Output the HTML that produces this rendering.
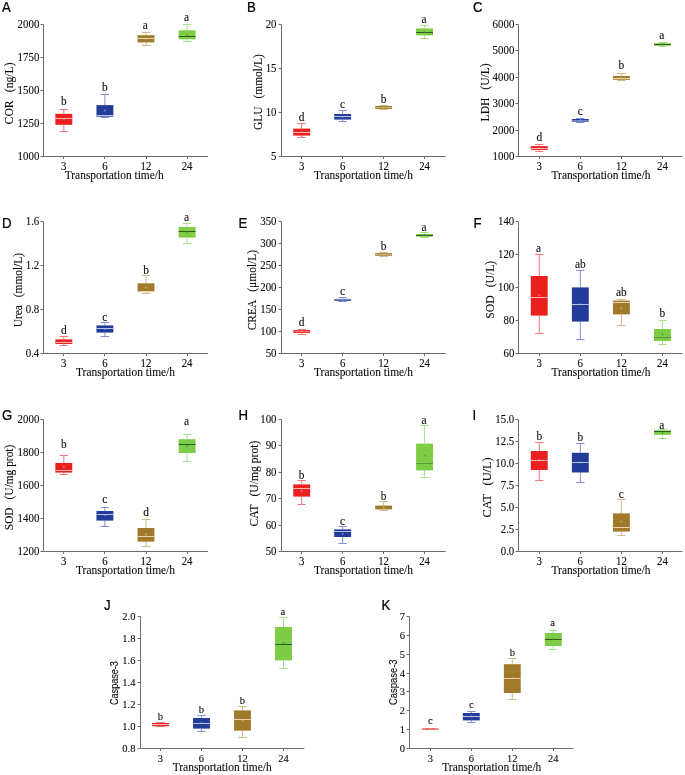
<!DOCTYPE html>
<html><head><meta charset="utf-8"><style>
html,body{margin:0;padding:0;background:#fff;}
svg{display:block;will-change:transform;}
</style></head><body>
<svg width="685" height="775" viewBox="0 0 685 775">
<rect width="685" height="775" fill="#fff"/>
<g transform="translate(2,12.3) scale(0.93,1)"><text x="0" y="0" font-family="Liberation Sans" font-size="14.2" fill="#000" stroke="#000" stroke-width="0.25">A</text></g>
<path d="M43.50 24.50 V156.50 H208.00" fill="none" stroke="#6a6a6a" stroke-width="1"/>
<path d="M40.50 156.50 H43.50" stroke="#6a6a6a" stroke-width="1"/>
<g transform="translate(39.30,160.10) scale(0.92,1)"><text x="0" y="0" font-family="Liberation Serif" font-size="11.8" text-anchor="end" fill="#0a0a0a" stroke="#0a0a0a" stroke-width="0.1">1000</text></g>
<path d="M40.50 123.50 H43.50" stroke="#6a6a6a" stroke-width="1"/>
<g transform="translate(39.30,127.10) scale(0.92,1)"><text x="0" y="0" font-family="Liberation Serif" font-size="11.8" text-anchor="end" fill="#0a0a0a" stroke="#0a0a0a" stroke-width="0.1">1250</text></g>
<path d="M40.50 90.50 H43.50" stroke="#6a6a6a" stroke-width="1"/>
<g transform="translate(39.30,94.10) scale(0.92,1)"><text x="0" y="0" font-family="Liberation Serif" font-size="11.8" text-anchor="end" fill="#0a0a0a" stroke="#0a0a0a" stroke-width="0.1">1500</text></g>
<path d="M40.50 57.50 H43.50" stroke="#6a6a6a" stroke-width="1"/>
<g transform="translate(39.30,61.10) scale(0.92,1)"><text x="0" y="0" font-family="Liberation Serif" font-size="11.8" text-anchor="end" fill="#0a0a0a" stroke="#0a0a0a" stroke-width="0.1">1750</text></g>
<path d="M40.50 24.50 H43.50" stroke="#6a6a6a" stroke-width="1"/>
<g transform="translate(39.30,28.10) scale(0.92,1)"><text x="0" y="0" font-family="Liberation Serif" font-size="11.8" text-anchor="end" fill="#0a0a0a" stroke="#0a0a0a" stroke-width="0.1">2000</text></g>
<path d="M63.50 157.00 V159.00" stroke="#6a6a6a" stroke-width="1"/>
<g transform="translate(63.80,169.80) scale(0.92,1)"><text x="0" y="0" font-family="Liberation Serif" font-size="11.8" text-anchor="middle" fill="#0a0a0a" stroke="#0a0a0a" stroke-width="0.1">3</text></g>
<path d="M104.50 157.00 V159.00" stroke="#6a6a6a" stroke-width="1"/>
<g transform="translate(104.90,169.80) scale(0.92,1)"><text x="0" y="0" font-family="Liberation Serif" font-size="11.8" text-anchor="middle" fill="#0a0a0a" stroke="#0a0a0a" stroke-width="0.1">6</text></g>
<path d="M146.50 157.00 V159.00" stroke="#6a6a6a" stroke-width="1"/>
<g transform="translate(146.00,169.80) scale(0.92,1)"><text x="0" y="0" font-family="Liberation Serif" font-size="11.8" text-anchor="middle" fill="#0a0a0a" stroke="#0a0a0a" stroke-width="0.1">12</text></g>
<path d="M187.50 157.00 V159.00" stroke="#6a6a6a" stroke-width="1"/>
<g transform="translate(187.10,169.80) scale(0.92,1)"><text x="0" y="0" font-family="Liberation Serif" font-size="11.8" text-anchor="middle" fill="#0a0a0a" stroke="#0a0a0a" stroke-width="0.1">24</text></g>
<g transform="translate(114.20,178.60) scale(0.995,1)"><text x="0" y="0" font-family="Liberation Serif" font-size="11.5" text-anchor="middle" fill="#0a0a0a" stroke="#0a0a0a" stroke-width="0.1">Transportation time/h</text></g>
<text transform="translate(13.30,124.40) rotate(-90)" x="0" y="0" font-family="Liberation Serif" font-size="12.0" textLength="62.00" lengthAdjust="spacingAndGlyphs" fill="#0a0a0a" stroke="#0a0a0a" stroke-width="0.1">COR  (ng/L)</text>
<path d="M63.80 109.50 V113.80 M63.80 124.80 V131.50 M59.65 109.50 H67.95 M59.65 131.50 H67.95" stroke="#f07878" stroke-width="1" fill="none"/>
<rect x="55.35" y="113.80" width="16.9" height="11.00" fill="#ec1f1f"/>
<path d="M55.35 118.50 H72.25" stroke="#f3b8b8" stroke-width="1" stroke-opacity="1"/>
<circle cx="63.80" cy="119.00" r="1.1" fill="#f5a0a0" fill-opacity="0.6"/>
<g transform="translate(63.80,105.40) scale(0.93,1)"><text x="0" y="0" font-family="Liberation Serif" font-size="12.3" text-anchor="middle" fill="#0a0a0a" stroke="#0a0a0a" stroke-width="0.1">b</text></g>
<path d="M104.90 94.50 V105.10 M104.90 116.70 V117.50 M100.75 94.50 H109.05 M100.75 117.50 H109.05" stroke="#8090d4" stroke-width="1" fill="none"/>
<rect x="96.45" y="105.10" width="16.9" height="11.60" fill="#233c97"/>
<path d="M96.45 115.50 H113.35" stroke="#b8c2e6" stroke-width="1" stroke-opacity="1"/>
<circle cx="104.90" cy="110.50" r="1.1" fill="#a0aee0" fill-opacity="0.6"/>
<g transform="translate(104.90,90.80) scale(0.93,1)"><text x="0" y="0" font-family="Liberation Serif" font-size="12.3" text-anchor="middle" fill="#0a0a0a" stroke="#0a0a0a" stroke-width="0.1">b</text></g>
<path d="M146.00 32.50 V35.20 M146.00 42.40 V45.50 M141.85 32.50 H150.15 M141.85 45.50 H150.15" stroke="#d2b888" stroke-width="1" fill="none"/>
<rect x="137.55" y="35.20" width="16.9" height="7.20" fill="#a07a2a"/>
<path d="M137.55 38.50 H154.45" stroke="#e6d6b0" stroke-width="1" stroke-opacity="1"/>
<circle cx="146.00" cy="38.50" r="1.1" fill="#d8c490" fill-opacity="0.6"/>
<g transform="translate(145.40,28.60) scale(0.93,1)"><text x="0" y="0" font-family="Liberation Serif" font-size="12.3" text-anchor="middle" fill="#0a0a0a" stroke="#0a0a0a" stroke-width="0.1">a</text></g>
<path d="M187.10 24.50 V30.30 M187.10 39.30 V41.50 M182.95 24.50 H191.25 M182.95 41.50 H191.25" stroke="#a6e088" stroke-width="1" fill="none"/>
<rect x="178.65" y="30.30" width="16.9" height="9.00" fill="#7ccd45"/>
<path d="M178.65 36.50 H195.55" stroke="#2f5a20" stroke-width="1" stroke-opacity="1"/>
<circle cx="187.10" cy="35.00" r="1.1" fill="#4a8a30" fill-opacity="0.6"/>
<g transform="translate(186.50,20.50) scale(0.93,1)"><text x="0" y="0" font-family="Liberation Serif" font-size="12.3" text-anchor="middle" fill="#0a0a0a" stroke="#0a0a0a" stroke-width="0.1">a</text></g>
<g transform="translate(247,12.3) scale(0.93,1)"><text x="0" y="0" font-family="Liberation Sans" font-size="14.2" fill="#000" stroke="#000" stroke-width="0.25">B</text></g>
<path d="M281.50 24.50 V156.50 H445.60" fill="none" stroke="#6a6a6a" stroke-width="1"/>
<path d="M278.50 156.50 H281.50" stroke="#6a6a6a" stroke-width="1"/>
<g transform="translate(276.50,160.10) scale(0.92,1)"><text x="0" y="0" font-family="Liberation Serif" font-size="11.8" text-anchor="end" fill="#0a0a0a" stroke="#0a0a0a" stroke-width="0.1">5</text></g>
<path d="M278.50 112.50 H281.50" stroke="#6a6a6a" stroke-width="1"/>
<g transform="translate(276.50,116.10) scale(0.92,1)"><text x="0" y="0" font-family="Liberation Serif" font-size="11.8" text-anchor="end" fill="#0a0a0a" stroke="#0a0a0a" stroke-width="0.1">10</text></g>
<path d="M278.50 68.50 H281.50" stroke="#6a6a6a" stroke-width="1"/>
<g transform="translate(276.50,72.10) scale(0.92,1)"><text x="0" y="0" font-family="Liberation Serif" font-size="11.8" text-anchor="end" fill="#0a0a0a" stroke="#0a0a0a" stroke-width="0.1">15</text></g>
<path d="M278.50 24.50 H281.50" stroke="#6a6a6a" stroke-width="1"/>
<g transform="translate(276.50,28.10) scale(0.92,1)"><text x="0" y="0" font-family="Liberation Serif" font-size="11.8" text-anchor="end" fill="#0a0a0a" stroke="#0a0a0a" stroke-width="0.1">20</text></g>
<path d="M301.50 157.00 V159.00" stroke="#6a6a6a" stroke-width="1"/>
<g transform="translate(301.70,169.80) scale(0.92,1)"><text x="0" y="0" font-family="Liberation Serif" font-size="11.8" text-anchor="middle" fill="#0a0a0a" stroke="#0a0a0a" stroke-width="0.1">3</text></g>
<path d="M342.50 157.00 V159.00" stroke="#6a6a6a" stroke-width="1"/>
<g transform="translate(342.65,169.80) scale(0.92,1)"><text x="0" y="0" font-family="Liberation Serif" font-size="11.8" text-anchor="middle" fill="#0a0a0a" stroke="#0a0a0a" stroke-width="0.1">6</text></g>
<path d="M383.50 157.00 V159.00" stroke="#6a6a6a" stroke-width="1"/>
<g transform="translate(383.60,169.80) scale(0.92,1)"><text x="0" y="0" font-family="Liberation Serif" font-size="11.8" text-anchor="middle" fill="#0a0a0a" stroke="#0a0a0a" stroke-width="0.1">12</text></g>
<path d="M424.50 157.00 V159.00" stroke="#6a6a6a" stroke-width="1"/>
<g transform="translate(424.55,169.80) scale(0.92,1)"><text x="0" y="0" font-family="Liberation Serif" font-size="11.8" text-anchor="middle" fill="#0a0a0a" stroke="#0a0a0a" stroke-width="0.1">24</text></g>
<g transform="translate(363.50,178.60) scale(0.995,1)"><text x="0" y="0" font-family="Liberation Serif" font-size="11.5" text-anchor="middle" fill="#0a0a0a" stroke="#0a0a0a" stroke-width="0.1">Transportation time/h</text></g>
<text transform="translate(262.30,129.90) rotate(-90)" x="0" y="0" font-family="Liberation Serif" font-size="12.0" textLength="75.70" lengthAdjust="spacingAndGlyphs" fill="#0a0a0a" stroke="#0a0a0a" stroke-width="0.1">GLU  (mmol/L)</text>
<path d="M301.70 123.50 V128.60 M301.70 135.60 V137.50 M297.55 123.50 H305.85 M297.55 137.50 H305.85" stroke="#f07878" stroke-width="1" fill="none"/>
<rect x="293.25" y="128.60" width="16.9" height="7.00" fill="#ec1f1f"/>
<path d="M293.25 132.50 H310.15" stroke="#f3b8b8" stroke-width="1" stroke-opacity="1"/>
<circle cx="301.70" cy="132.00" r="1.1" fill="#f5a0a0" fill-opacity="0.6"/>
<g transform="translate(301.70,121.40) scale(0.93,1)"><text x="0" y="0" font-family="Liberation Serif" font-size="12.3" text-anchor="middle" fill="#0a0a0a" stroke="#0a0a0a" stroke-width="0.1">d</text></g>
<path d="M342.65 110.50 V114.00 M342.65 119.60 V121.50 M338.50 110.50 H346.80 M338.50 121.50 H346.80" stroke="#8090d4" stroke-width="1" fill="none"/>
<rect x="334.20" y="114.00" width="16.9" height="5.60" fill="#233c97"/>
<path d="M334.20 116.50 H351.10" stroke="#b8c2e6" stroke-width="1" stroke-opacity="1"/>
<circle cx="342.65" cy="116.80" r="1.1" fill="#a0aee0" fill-opacity="0.6"/>
<g transform="translate(342.65,108.40) scale(0.93,1)"><text x="0" y="0" font-family="Liberation Serif" font-size="12.3" text-anchor="middle" fill="#0a0a0a" stroke="#0a0a0a" stroke-width="0.1">c</text></g>
<path d="M383.60 105.50 V106.00 M383.60 108.90 V109.50 M379.45 105.50 H387.75 M379.45 109.50 H387.75" stroke="#d2b888" stroke-width="1" fill="none"/>
<rect x="375.15" y="106.00" width="16.9" height="2.90" fill="#a07a2a"/>
<path d="M375.15 107.50 H392.05" stroke="#e6d6b0" stroke-width="1" stroke-opacity="0.55"/>
<circle cx="383.60" cy="107.60" r="1.1" fill="#d8c490" fill-opacity="0.6"/>
<g transform="translate(383.60,103.40) scale(0.93,1)"><text x="0" y="0" font-family="Liberation Serif" font-size="12.3" text-anchor="middle" fill="#0a0a0a" stroke="#0a0a0a" stroke-width="0.1">b</text></g>
<path d="M424.55 25.50 V28.40 M424.55 35.40 V38.50 M420.40 25.50 H428.70 M420.40 38.50 H428.70" stroke="#a6e088" stroke-width="1" fill="none"/>
<rect x="416.10" y="28.40" width="16.9" height="7.00" fill="#7ccd45"/>
<path d="M416.10 32.50 H433.00" stroke="#2f5a20" stroke-width="1" stroke-opacity="1"/>
<circle cx="424.55" cy="32.00" r="1.1" fill="#4a8a30" fill-opacity="0.6"/>
<g transform="translate(423.95,23.40) scale(0.93,1)"><text x="0" y="0" font-family="Liberation Serif" font-size="12.3" text-anchor="middle" fill="#0a0a0a" stroke="#0a0a0a" stroke-width="0.1">a</text></g>
<g transform="translate(473,12.3) scale(0.93,1)"><text x="0" y="0" font-family="Liberation Sans" font-size="14.2" fill="#000" stroke="#000" stroke-width="0.25">C</text></g>
<path d="M518.50 24.50 V156.50 H682.40" fill="none" stroke="#6a6a6a" stroke-width="1"/>
<path d="M515.50 156.50 H518.50" stroke="#6a6a6a" stroke-width="1"/>
<g transform="translate(514.30,160.10) scale(0.92,1)"><text x="0" y="0" font-family="Liberation Serif" font-size="11.8" text-anchor="end" fill="#0a0a0a" stroke="#0a0a0a" stroke-width="0.1">1000</text></g>
<path d="M515.50 130.50 H518.50" stroke="#6a6a6a" stroke-width="1"/>
<g transform="translate(514.30,134.10) scale(0.92,1)"><text x="0" y="0" font-family="Liberation Serif" font-size="11.8" text-anchor="end" fill="#0a0a0a" stroke="#0a0a0a" stroke-width="0.1">2000</text></g>
<path d="M515.50 103.50 H518.50" stroke="#6a6a6a" stroke-width="1"/>
<g transform="translate(514.30,107.10) scale(0.92,1)"><text x="0" y="0" font-family="Liberation Serif" font-size="11.8" text-anchor="end" fill="#0a0a0a" stroke="#0a0a0a" stroke-width="0.1">3000</text></g>
<path d="M515.50 77.50 H518.50" stroke="#6a6a6a" stroke-width="1"/>
<g transform="translate(514.30,81.10) scale(0.92,1)"><text x="0" y="0" font-family="Liberation Serif" font-size="11.8" text-anchor="end" fill="#0a0a0a" stroke="#0a0a0a" stroke-width="0.1">4000</text></g>
<path d="M515.50 50.50 H518.50" stroke="#6a6a6a" stroke-width="1"/>
<g transform="translate(514.30,54.10) scale(0.92,1)"><text x="0" y="0" font-family="Liberation Serif" font-size="11.8" text-anchor="end" fill="#0a0a0a" stroke="#0a0a0a" stroke-width="0.1">5000</text></g>
<path d="M515.50 24.50 H518.50" stroke="#6a6a6a" stroke-width="1"/>
<g transform="translate(514.30,28.10) scale(0.92,1)"><text x="0" y="0" font-family="Liberation Serif" font-size="11.8" text-anchor="end" fill="#0a0a0a" stroke="#0a0a0a" stroke-width="0.1">6000</text></g>
<path d="M539.50 157.00 V159.00" stroke="#6a6a6a" stroke-width="1"/>
<g transform="translate(539.25,169.80) scale(0.92,1)"><text x="0" y="0" font-family="Liberation Serif" font-size="11.8" text-anchor="middle" fill="#0a0a0a" stroke="#0a0a0a" stroke-width="0.1">3</text></g>
<path d="M580.50 157.00 V159.00" stroke="#6a6a6a" stroke-width="1"/>
<g transform="translate(580.32,169.80) scale(0.92,1)"><text x="0" y="0" font-family="Liberation Serif" font-size="11.8" text-anchor="middle" fill="#0a0a0a" stroke="#0a0a0a" stroke-width="0.1">6</text></g>
<path d="M621.50 157.00 V159.00" stroke="#6a6a6a" stroke-width="1"/>
<g transform="translate(621.39,169.80) scale(0.92,1)"><text x="0" y="0" font-family="Liberation Serif" font-size="11.8" text-anchor="middle" fill="#0a0a0a" stroke="#0a0a0a" stroke-width="0.1">12</text></g>
<path d="M662.50 157.00 V159.00" stroke="#6a6a6a" stroke-width="1"/>
<g transform="translate(662.46,169.80) scale(0.92,1)"><text x="0" y="0" font-family="Liberation Serif" font-size="11.8" text-anchor="middle" fill="#0a0a0a" stroke="#0a0a0a" stroke-width="0.1">24</text></g>
<g transform="translate(601.00,178.60) scale(0.995,1)"><text x="0" y="0" font-family="Liberation Serif" font-size="11.5" text-anchor="middle" fill="#0a0a0a" stroke="#0a0a0a" stroke-width="0.1">Transportation time/h</text></g>
<text transform="translate(488.50,121.40) rotate(-90)" x="0" y="0" font-family="Liberation Serif" font-size="12.0" textLength="58.00" lengthAdjust="spacingAndGlyphs" fill="#0a0a0a" stroke="#0a0a0a" stroke-width="0.1">LDH  (U/L)</text>
<path d="M539.25 144.50 V146.10 M539.25 149.90 V151.50 M535.10 144.50 H543.40 M535.10 151.50 H543.40" stroke="#f07878" stroke-width="1" fill="none"/>
<rect x="530.80" y="146.10" width="16.9" height="3.80" fill="#ec1f1f"/>
<path d="M530.80 148.50 H547.70" stroke="#f3b8b8" stroke-width="1" stroke-opacity="1"/>
<circle cx="539.25" cy="148.20" r="1.1" fill="#f5a0a0" fill-opacity="0.6"/>
<g transform="translate(539.25,141.00) scale(0.93,1)"><text x="0" y="0" font-family="Liberation Serif" font-size="12.3" text-anchor="middle" fill="#0a0a0a" stroke="#0a0a0a" stroke-width="0.1">d</text></g>
<path d="M580.32 118.50 V119.00 M580.32 121.70 V122.50 M576.17 118.50 H584.47 M576.17 122.50 H584.47" stroke="#8090d4" stroke-width="1" fill="none"/>
<rect x="571.87" y="119.00" width="16.9" height="2.70" fill="#233c97"/>
<path d="M571.87 120.50 H588.77" stroke="#b8c2e6" stroke-width="1" stroke-opacity="0.55"/>
<circle cx="580.32" cy="120.20" r="1.1" fill="#a0aee0" fill-opacity="0.6"/>
<g transform="translate(580.32,114.80) scale(0.93,1)"><text x="0" y="0" font-family="Liberation Serif" font-size="12.3" text-anchor="middle" fill="#0a0a0a" stroke="#0a0a0a" stroke-width="0.1">c</text></g>
<path d="M621.39 73.50 V76.00 M621.39 79.80 V80.50 M617.24 73.50 H625.54 M617.24 80.50 H625.54" stroke="#d2b888" stroke-width="1" fill="none"/>
<rect x="612.94" y="76.00" width="16.9" height="3.80" fill="#a07a2a"/>
<path d="M612.94 78.50 H629.84" stroke="#e6d6b0" stroke-width="1" stroke-opacity="1"/>
<circle cx="621.39" cy="78.20" r="1.1" fill="#d8c490" fill-opacity="0.6"/>
<g transform="translate(621.39,69.40) scale(0.93,1)"><text x="0" y="0" font-family="Liberation Serif" font-size="12.3" text-anchor="middle" fill="#0a0a0a" stroke="#0a0a0a" stroke-width="0.1">b</text></g>
<path d="M662.46 42.50 V43.20 M662.46 45.70 V46.50 M658.31 42.50 H666.61 M658.31 46.50 H666.61" stroke="#a6e088" stroke-width="1" fill="none"/>
<rect x="654.01" y="43.20" width="16.9" height="2.50" fill="#7ccd45"/>
<path d="M654.01 44.50 H670.91" stroke="#2f5a20" stroke-width="1" stroke-opacity="1"/>
<circle cx="662.46" cy="44.40" r="1.1" fill="#4a8a30" fill-opacity="0.6"/>
<g transform="translate(661.86,38.80) scale(0.93,1)"><text x="0" y="0" font-family="Liberation Serif" font-size="12.3" text-anchor="middle" fill="#0a0a0a" stroke="#0a0a0a" stroke-width="0.1">a</text></g>
<g transform="translate(2,228.3) scale(0.93,1)"><text x="0" y="0" font-family="Liberation Sans" font-size="14.2" fill="#000" stroke="#000" stroke-width="0.25">D</text></g>
<path d="M43.50 221.50 V353.50 H208.00" fill="none" stroke="#6a6a6a" stroke-width="1"/>
<path d="M40.50 353.50 H43.50" stroke="#6a6a6a" stroke-width="1"/>
<g transform="translate(39.30,357.10) scale(0.92,1)"><text x="0" y="0" font-family="Liberation Serif" font-size="11.8" text-anchor="end" fill="#0a0a0a" stroke="#0a0a0a" stroke-width="0.1">0.4</text></g>
<path d="M40.50 309.50 H43.50" stroke="#6a6a6a" stroke-width="1"/>
<g transform="translate(39.30,313.10) scale(0.92,1)"><text x="0" y="0" font-family="Liberation Serif" font-size="11.8" text-anchor="end" fill="#0a0a0a" stroke="#0a0a0a" stroke-width="0.1">0.8</text></g>
<path d="M40.50 265.50 H43.50" stroke="#6a6a6a" stroke-width="1"/>
<g transform="translate(39.30,269.10) scale(0.92,1)"><text x="0" y="0" font-family="Liberation Serif" font-size="11.8" text-anchor="end" fill="#0a0a0a" stroke="#0a0a0a" stroke-width="0.1">1.2</text></g>
<path d="M40.50 221.50 H43.50" stroke="#6a6a6a" stroke-width="1"/>
<g transform="translate(39.30,225.10) scale(0.92,1)"><text x="0" y="0" font-family="Liberation Serif" font-size="11.8" text-anchor="end" fill="#0a0a0a" stroke="#0a0a0a" stroke-width="0.1">1.6</text></g>
<path d="M63.50 354.00 V356.00" stroke="#6a6a6a" stroke-width="1"/>
<g transform="translate(63.80,367.00) scale(0.92,1)"><text x="0" y="0" font-family="Liberation Serif" font-size="11.8" text-anchor="middle" fill="#0a0a0a" stroke="#0a0a0a" stroke-width="0.1">3</text></g>
<path d="M104.50 354.00 V356.00" stroke="#6a6a6a" stroke-width="1"/>
<g transform="translate(104.90,367.00) scale(0.92,1)"><text x="0" y="0" font-family="Liberation Serif" font-size="11.8" text-anchor="middle" fill="#0a0a0a" stroke="#0a0a0a" stroke-width="0.1">6</text></g>
<path d="M146.50 354.00 V356.00" stroke="#6a6a6a" stroke-width="1"/>
<g transform="translate(146.00,367.00) scale(0.92,1)"><text x="0" y="0" font-family="Liberation Serif" font-size="11.8" text-anchor="middle" fill="#0a0a0a" stroke="#0a0a0a" stroke-width="0.1">12</text></g>
<path d="M187.50 354.00 V356.00" stroke="#6a6a6a" stroke-width="1"/>
<g transform="translate(187.10,367.00) scale(0.92,1)"><text x="0" y="0" font-family="Liberation Serif" font-size="11.8" text-anchor="middle" fill="#0a0a0a" stroke="#0a0a0a" stroke-width="0.1">24</text></g>
<g transform="translate(125.50,375.80) scale(0.995,1)"><text x="0" y="0" font-family="Liberation Serif" font-size="11.5" text-anchor="middle" fill="#0a0a0a" stroke="#0a0a0a" stroke-width="0.1">Transportation time/h</text></g>
<text transform="translate(22.30,327.20) rotate(-90)" x="0" y="0" font-family="Liberation Serif" font-size="12.0" textLength="74.20" lengthAdjust="spacingAndGlyphs" fill="#0a0a0a" stroke="#0a0a0a" stroke-width="0.1">Urea  (mmol/L)</text>
<path d="M63.80 336.50 V339.40 M63.80 344.00 V345.50 M59.65 336.50 H67.95 M59.65 345.50 H67.95" stroke="#f07878" stroke-width="1" fill="none"/>
<rect x="55.35" y="339.40" width="16.9" height="4.60" fill="#ec1f1f"/>
<path d="M55.35 342.50 H72.25" stroke="#f3b8b8" stroke-width="1" stroke-opacity="1"/>
<circle cx="63.80" cy="342.00" r="1.1" fill="#f5a0a0" fill-opacity="0.6"/>
<g transform="translate(63.80,334.00) scale(0.93,1)"><text x="0" y="0" font-family="Liberation Serif" font-size="12.3" text-anchor="middle" fill="#0a0a0a" stroke="#0a0a0a" stroke-width="0.1">d</text></g>
<path d="M104.90 322.50 V325.40 M104.90 332.60 V336.50 M100.75 322.50 H109.05 M100.75 336.50 H109.05" stroke="#8090d4" stroke-width="1" fill="none"/>
<rect x="96.45" y="325.40" width="16.9" height="7.20" fill="#233c97"/>
<path d="M96.45 328.50 H113.35" stroke="#b8c2e6" stroke-width="1" stroke-opacity="1"/>
<circle cx="104.90" cy="329.00" r="1.1" fill="#a0aee0" fill-opacity="0.6"/>
<g transform="translate(104.90,320.80) scale(0.93,1)"><text x="0" y="0" font-family="Liberation Serif" font-size="12.3" text-anchor="middle" fill="#0a0a0a" stroke="#0a0a0a" stroke-width="0.1">c</text></g>
<path d="M146.00 275.50 V283.30 M146.00 292.10 V293.50 M141.85 275.50 H150.15 M141.85 293.50 H150.15" stroke="#d2b888" stroke-width="1" fill="none"/>
<rect x="137.55" y="283.30" width="16.9" height="8.80" fill="#a07a2a"/>
<path d="M137.55 291.50 H154.45" stroke="#e6d6b0" stroke-width="1" stroke-opacity="1"/>
<circle cx="146.00" cy="287.50" r="1.1" fill="#d8c490" fill-opacity="0.6"/>
<g transform="translate(146.00,274.00) scale(0.93,1)"><text x="0" y="0" font-family="Liberation Serif" font-size="12.3" text-anchor="middle" fill="#0a0a0a" stroke="#0a0a0a" stroke-width="0.1">b</text></g>
<path d="M187.10 223.50 V227.00 M187.10 237.60 V243.50 M182.95 223.50 H191.25 M182.95 243.50 H191.25" stroke="#a6e088" stroke-width="1" fill="none"/>
<rect x="178.65" y="227.00" width="16.9" height="10.60" fill="#7ccd45"/>
<path d="M178.65 231.50 H195.55" stroke="#2f5a20" stroke-width="1" stroke-opacity="1"/>
<circle cx="187.10" cy="232.00" r="1.1" fill="#4a8a30" fill-opacity="0.6"/>
<g transform="translate(186.50,221.00) scale(0.93,1)"><text x="0" y="0" font-family="Liberation Serif" font-size="12.3" text-anchor="middle" fill="#0a0a0a" stroke="#0a0a0a" stroke-width="0.1">a</text></g>
<g transform="translate(238.4,228.3) scale(0.93,1)"><text x="0" y="0" font-family="Liberation Sans" font-size="14.2" fill="#000" stroke="#000" stroke-width="0.25">E</text></g>
<path d="M281.50 221.50 V353.50 H445.60" fill="none" stroke="#6a6a6a" stroke-width="1"/>
<path d="M278.50 353.50 H281.50" stroke="#6a6a6a" stroke-width="1"/>
<g transform="translate(276.50,357.10) scale(0.92,1)"><text x="0" y="0" font-family="Liberation Serif" font-size="11.8" text-anchor="end" fill="#0a0a0a" stroke="#0a0a0a" stroke-width="0.1">50</text></g>
<path d="M278.50 331.50 H281.50" stroke="#6a6a6a" stroke-width="1"/>
<g transform="translate(276.50,335.10) scale(0.92,1)"><text x="0" y="0" font-family="Liberation Serif" font-size="11.8" text-anchor="end" fill="#0a0a0a" stroke="#0a0a0a" stroke-width="0.1">100</text></g>
<path d="M278.50 309.50 H281.50" stroke="#6a6a6a" stroke-width="1"/>
<g transform="translate(276.50,313.10) scale(0.92,1)"><text x="0" y="0" font-family="Liberation Serif" font-size="11.8" text-anchor="end" fill="#0a0a0a" stroke="#0a0a0a" stroke-width="0.1">150</text></g>
<path d="M278.50 287.50 H281.50" stroke="#6a6a6a" stroke-width="1"/>
<g transform="translate(276.50,291.10) scale(0.92,1)"><text x="0" y="0" font-family="Liberation Serif" font-size="11.8" text-anchor="end" fill="#0a0a0a" stroke="#0a0a0a" stroke-width="0.1">200</text></g>
<path d="M278.50 265.50 H281.50" stroke="#6a6a6a" stroke-width="1"/>
<g transform="translate(276.50,269.10) scale(0.92,1)"><text x="0" y="0" font-family="Liberation Serif" font-size="11.8" text-anchor="end" fill="#0a0a0a" stroke="#0a0a0a" stroke-width="0.1">250</text></g>
<path d="M278.50 243.50 H281.50" stroke="#6a6a6a" stroke-width="1"/>
<g transform="translate(276.50,247.10) scale(0.92,1)"><text x="0" y="0" font-family="Liberation Serif" font-size="11.8" text-anchor="end" fill="#0a0a0a" stroke="#0a0a0a" stroke-width="0.1">300</text></g>
<path d="M278.50 221.50 H281.50" stroke="#6a6a6a" stroke-width="1"/>
<g transform="translate(276.50,225.10) scale(0.92,1)"><text x="0" y="0" font-family="Liberation Serif" font-size="11.8" text-anchor="end" fill="#0a0a0a" stroke="#0a0a0a" stroke-width="0.1">350</text></g>
<path d="M301.50 354.00 V356.00" stroke="#6a6a6a" stroke-width="1"/>
<g transform="translate(301.70,367.00) scale(0.92,1)"><text x="0" y="0" font-family="Liberation Serif" font-size="11.8" text-anchor="middle" fill="#0a0a0a" stroke="#0a0a0a" stroke-width="0.1">3</text></g>
<path d="M342.50 354.00 V356.00" stroke="#6a6a6a" stroke-width="1"/>
<g transform="translate(342.65,367.00) scale(0.92,1)"><text x="0" y="0" font-family="Liberation Serif" font-size="11.8" text-anchor="middle" fill="#0a0a0a" stroke="#0a0a0a" stroke-width="0.1">6</text></g>
<path d="M383.50 354.00 V356.00" stroke="#6a6a6a" stroke-width="1"/>
<g transform="translate(383.60,367.00) scale(0.92,1)"><text x="0" y="0" font-family="Liberation Serif" font-size="11.8" text-anchor="middle" fill="#0a0a0a" stroke="#0a0a0a" stroke-width="0.1">12</text></g>
<path d="M424.50 354.00 V356.00" stroke="#6a6a6a" stroke-width="1"/>
<g transform="translate(424.55,367.00) scale(0.92,1)"><text x="0" y="0" font-family="Liberation Serif" font-size="11.8" text-anchor="middle" fill="#0a0a0a" stroke="#0a0a0a" stroke-width="0.1">24</text></g>
<g transform="translate(363.50,375.80) scale(0.995,1)"><text x="0" y="0" font-family="Liberation Serif" font-size="11.5" text-anchor="middle" fill="#0a0a0a" stroke="#0a0a0a" stroke-width="0.1">Transportation time/h</text></g>
<text transform="translate(256.30,330.30) rotate(-90)" x="0" y="0" font-family="Liberation Serif" font-size="12.0" textLength="80.40" lengthAdjust="spacingAndGlyphs" fill="#0a0a0a" stroke="#0a0a0a" stroke-width="0.1">CREA  (μmol/L)</text>
<path d="M301.70 329.50 V330.10 M301.70 332.90 V334.50 M297.55 329.50 H305.85 M297.55 334.50 H305.85" stroke="#f07878" stroke-width="1" fill="none"/>
<rect x="293.25" y="330.10" width="16.9" height="2.80" fill="#ec1f1f"/>
<path d="M293.25 331.50 H310.15" stroke="#f3b8b8" stroke-width="1" stroke-opacity="0.55"/>
<circle cx="301.70" cy="331.40" r="1.1" fill="#f5a0a0" fill-opacity="0.6"/>
<g transform="translate(301.70,326.40) scale(0.93,1)"><text x="0" y="0" font-family="Liberation Serif" font-size="12.3" text-anchor="middle" fill="#0a0a0a" stroke="#0a0a0a" stroke-width="0.1">d</text></g>
<path d="M342.65 297.50 V298.90 M342.65 300.80 V301.50 M338.50 297.50 H346.80 M338.50 301.50 H346.80" stroke="#8090d4" stroke-width="1" fill="none"/>
<rect x="334.20" y="298.90" width="16.9" height="1.90" fill="#233c97"/>
<path d="M334.20 299.50 H351.10" stroke="#b8c2e6" stroke-width="1" stroke-opacity="0.55"/>
<circle cx="342.65" cy="299.80" r="1.1" fill="#a0aee0" fill-opacity="0.6"/>
<g transform="translate(342.65,295.40) scale(0.93,1)"><text x="0" y="0" font-family="Liberation Serif" font-size="12.3" text-anchor="middle" fill="#0a0a0a" stroke="#0a0a0a" stroke-width="0.1">c</text></g>
<path d="M383.60 252.50 V253.10 M383.60 255.80 V256.50 M379.45 252.50 H387.75 M379.45 256.50 H387.75" stroke="#d2b888" stroke-width="1" fill="none"/>
<rect x="375.15" y="253.10" width="16.9" height="2.70" fill="#a07a2a"/>
<path d="M375.15 254.50 H392.05" stroke="#e6d6b0" stroke-width="1" stroke-opacity="0.55"/>
<circle cx="383.60" cy="254.50" r="1.1" fill="#d8c490" fill-opacity="0.6"/>
<g transform="translate(383.60,250.40) scale(0.93,1)"><text x="0" y="0" font-family="Liberation Serif" font-size="12.3" text-anchor="middle" fill="#0a0a0a" stroke="#0a0a0a" stroke-width="0.1">b</text></g>
<path d="M424.55 232.50 V233.90 M424.55 236.70 V237.50 M420.40 232.50 H428.70 M420.40 237.50 H428.70" stroke="#a6e088" stroke-width="1" fill="none"/>
<rect x="416.10" y="233.90" width="16.9" height="2.80" fill="#7ccd45"/>
<path d="M416.10 235.50 H433.00" stroke="#2f5a20" stroke-width="1" stroke-opacity="1"/>
<circle cx="424.55" cy="235.20" r="1.1" fill="#4a8a30" fill-opacity="0.6"/>
<g transform="translate(423.95,230.80) scale(0.93,1)"><text x="0" y="0" font-family="Liberation Serif" font-size="12.3" text-anchor="middle" fill="#0a0a0a" stroke="#0a0a0a" stroke-width="0.1">a</text></g>
<g transform="translate(473.6,228.3) scale(0.93,1)"><text x="0" y="0" font-family="Liberation Sans" font-size="14.2" fill="#000" stroke="#000" stroke-width="0.25">F</text></g>
<path d="M518.50 221.50 V353.50 H682.40" fill="none" stroke="#6a6a6a" stroke-width="1"/>
<path d="M515.50 353.50 H518.50" stroke="#6a6a6a" stroke-width="1"/>
<g transform="translate(514.30,357.10) scale(0.92,1)"><text x="0" y="0" font-family="Liberation Serif" font-size="11.8" text-anchor="end" fill="#0a0a0a" stroke="#0a0a0a" stroke-width="0.1">60</text></g>
<path d="M515.50 320.50 H518.50" stroke="#6a6a6a" stroke-width="1"/>
<g transform="translate(514.30,324.10) scale(0.92,1)"><text x="0" y="0" font-family="Liberation Serif" font-size="11.8" text-anchor="end" fill="#0a0a0a" stroke="#0a0a0a" stroke-width="0.1">80</text></g>
<path d="M515.50 287.50 H518.50" stroke="#6a6a6a" stroke-width="1"/>
<g transform="translate(514.30,291.10) scale(0.92,1)"><text x="0" y="0" font-family="Liberation Serif" font-size="11.8" text-anchor="end" fill="#0a0a0a" stroke="#0a0a0a" stroke-width="0.1">100</text></g>
<path d="M515.50 254.50 H518.50" stroke="#6a6a6a" stroke-width="1"/>
<g transform="translate(514.30,258.10) scale(0.92,1)"><text x="0" y="0" font-family="Liberation Serif" font-size="11.8" text-anchor="end" fill="#0a0a0a" stroke="#0a0a0a" stroke-width="0.1">120</text></g>
<path d="M515.50 221.50 H518.50" stroke="#6a6a6a" stroke-width="1"/>
<g transform="translate(514.30,225.10) scale(0.92,1)"><text x="0" y="0" font-family="Liberation Serif" font-size="11.8" text-anchor="end" fill="#0a0a0a" stroke="#0a0a0a" stroke-width="0.1">140</text></g>
<path d="M539.50 354.00 V356.00" stroke="#6a6a6a" stroke-width="1"/>
<g transform="translate(539.25,367.00) scale(0.92,1)"><text x="0" y="0" font-family="Liberation Serif" font-size="11.8" text-anchor="middle" fill="#0a0a0a" stroke="#0a0a0a" stroke-width="0.1">3</text></g>
<path d="M580.50 354.00 V356.00" stroke="#6a6a6a" stroke-width="1"/>
<g transform="translate(580.32,367.00) scale(0.92,1)"><text x="0" y="0" font-family="Liberation Serif" font-size="11.8" text-anchor="middle" fill="#0a0a0a" stroke="#0a0a0a" stroke-width="0.1">6</text></g>
<path d="M621.50 354.00 V356.00" stroke="#6a6a6a" stroke-width="1"/>
<g transform="translate(621.39,367.00) scale(0.92,1)"><text x="0" y="0" font-family="Liberation Serif" font-size="11.8" text-anchor="middle" fill="#0a0a0a" stroke="#0a0a0a" stroke-width="0.1">12</text></g>
<path d="M662.50 354.00 V356.00" stroke="#6a6a6a" stroke-width="1"/>
<g transform="translate(662.46,367.00) scale(0.92,1)"><text x="0" y="0" font-family="Liberation Serif" font-size="11.8" text-anchor="middle" fill="#0a0a0a" stroke="#0a0a0a" stroke-width="0.1">24</text></g>
<g transform="translate(601.00,375.80) scale(0.995,1)"><text x="0" y="0" font-family="Liberation Serif" font-size="11.5" text-anchor="middle" fill="#0a0a0a" stroke="#0a0a0a" stroke-width="0.1">Transportation time/h</text></g>
<text transform="translate(493.80,318.70) rotate(-90)" x="0" y="0" font-family="Liberation Serif" font-size="12.0" textLength="57.90" lengthAdjust="spacingAndGlyphs" fill="#0a0a0a" stroke="#0a0a0a" stroke-width="0.1">SOD  (U/L)</text>
<path d="M539.25 254.50 V276.00 M539.25 315.60 V333.50 M535.10 254.50 H543.40 M535.10 333.50 H543.40" stroke="#f07878" stroke-width="1" fill="none"/>
<rect x="530.80" y="276.00" width="16.9" height="39.60" fill="#ec1f1f"/>
<path d="M530.80 297.50 H547.70" stroke="#f3b8b8" stroke-width="1" stroke-opacity="1"/>
<circle cx="539.25" cy="295.00" r="1.1" fill="#f5a0a0" fill-opacity="0.6"/>
<g transform="translate(538.65,252.40) scale(0.93,1)"><text x="0" y="0" font-family="Liberation Serif" font-size="12.3" text-anchor="middle" fill="#0a0a0a" stroke="#0a0a0a" stroke-width="0.1">a</text></g>
<path d="M580.32 270.50 V287.40 M580.32 321.60 V339.50 M576.17 270.50 H584.47 M576.17 339.50 H584.47" stroke="#8090d4" stroke-width="1" fill="none"/>
<rect x="571.87" y="287.40" width="16.9" height="34.20" fill="#233c97"/>
<path d="M571.87 304.50 H588.77" stroke="#b8c2e6" stroke-width="1" stroke-opacity="1"/>
<circle cx="580.32" cy="304.40" r="1.1" fill="#a0aee0" fill-opacity="0.6"/>
<g transform="translate(580.32,268.00) scale(0.93,1)"><text x="0" y="0" font-family="Liberation Serif" font-size="12.3" text-anchor="middle" fill="#0a0a0a" stroke="#0a0a0a" stroke-width="0.1">ab</text></g>
<path d="M621.39 299.50 V300.60 M621.39 314.40 V325.50 M617.24 299.50 H625.54 M617.24 325.50 H625.54" stroke="#d2b888" stroke-width="1" fill="none"/>
<rect x="612.94" y="300.60" width="16.9" height="13.80" fill="#a07a2a"/>
<path d="M612.94 302.50 H629.84" stroke="#e6d6b0" stroke-width="1" stroke-opacity="1"/>
<circle cx="621.39" cy="308.40" r="1.1" fill="#d8c490" fill-opacity="0.6"/>
<g transform="translate(621.39,296.00) scale(0.93,1)"><text x="0" y="0" font-family="Liberation Serif" font-size="12.3" text-anchor="middle" fill="#0a0a0a" stroke="#0a0a0a" stroke-width="0.1">ab</text></g>
<path d="M662.46 320.50 V329.00 M662.46 341.00 V344.50 M658.31 320.50 H666.61 M658.31 344.50 H666.61" stroke="#a6e088" stroke-width="1" fill="none"/>
<rect x="654.01" y="329.00" width="16.9" height="12.00" fill="#7ccd45"/>
<path d="M654.01 337.50 H670.91" stroke="#559a36" stroke-width="1" stroke-opacity="1"/>
<circle cx="662.46" cy="334.40" r="1.1" fill="#4a8a30" fill-opacity="0.6"/>
<g transform="translate(662.46,317.40) scale(0.93,1)"><text x="0" y="0" font-family="Liberation Serif" font-size="12.3" text-anchor="middle" fill="#0a0a0a" stroke="#0a0a0a" stroke-width="0.1">b</text></g>
<g transform="translate(2,420.3) scale(0.93,1)"><text x="0" y="0" font-family="Liberation Sans" font-size="14.2" fill="#000" stroke="#000" stroke-width="0.25">G</text></g>
<path d="M43.50 419.50 V551.50 H208.00" fill="none" stroke="#6a6a6a" stroke-width="1"/>
<path d="M40.50 551.50 H43.50" stroke="#6a6a6a" stroke-width="1"/>
<g transform="translate(39.30,555.10) scale(0.92,1)"><text x="0" y="0" font-family="Liberation Serif" font-size="11.8" text-anchor="end" fill="#0a0a0a" stroke="#0a0a0a" stroke-width="0.1">1200</text></g>
<path d="M40.50 518.50 H43.50" stroke="#6a6a6a" stroke-width="1"/>
<g transform="translate(39.30,522.10) scale(0.92,1)"><text x="0" y="0" font-family="Liberation Serif" font-size="11.8" text-anchor="end" fill="#0a0a0a" stroke="#0a0a0a" stroke-width="0.1">1400</text></g>
<path d="M40.50 485.50 H43.50" stroke="#6a6a6a" stroke-width="1"/>
<g transform="translate(39.30,489.10) scale(0.92,1)"><text x="0" y="0" font-family="Liberation Serif" font-size="11.8" text-anchor="end" fill="#0a0a0a" stroke="#0a0a0a" stroke-width="0.1">1600</text></g>
<path d="M40.50 452.50 H43.50" stroke="#6a6a6a" stroke-width="1"/>
<g transform="translate(39.30,456.10) scale(0.92,1)"><text x="0" y="0" font-family="Liberation Serif" font-size="11.8" text-anchor="end" fill="#0a0a0a" stroke="#0a0a0a" stroke-width="0.1">1800</text></g>
<path d="M40.50 419.50 H43.50" stroke="#6a6a6a" stroke-width="1"/>
<g transform="translate(39.30,423.10) scale(0.92,1)"><text x="0" y="0" font-family="Liberation Serif" font-size="11.8" text-anchor="end" fill="#0a0a0a" stroke="#0a0a0a" stroke-width="0.1">2000</text></g>
<path d="M63.50 552.00 V554.00" stroke="#6a6a6a" stroke-width="1"/>
<g transform="translate(63.80,564.80) scale(0.92,1)"><text x="0" y="0" font-family="Liberation Serif" font-size="11.8" text-anchor="middle" fill="#0a0a0a" stroke="#0a0a0a" stroke-width="0.1">3</text></g>
<path d="M104.50 552.00 V554.00" stroke="#6a6a6a" stroke-width="1"/>
<g transform="translate(104.90,564.80) scale(0.92,1)"><text x="0" y="0" font-family="Liberation Serif" font-size="11.8" text-anchor="middle" fill="#0a0a0a" stroke="#0a0a0a" stroke-width="0.1">6</text></g>
<path d="M146.50 552.00 V554.00" stroke="#6a6a6a" stroke-width="1"/>
<g transform="translate(146.00,564.80) scale(0.92,1)"><text x="0" y="0" font-family="Liberation Serif" font-size="11.8" text-anchor="middle" fill="#0a0a0a" stroke="#0a0a0a" stroke-width="0.1">12</text></g>
<path d="M187.50 552.00 V554.00" stroke="#6a6a6a" stroke-width="1"/>
<g transform="translate(187.10,564.80) scale(0.92,1)"><text x="0" y="0" font-family="Liberation Serif" font-size="11.8" text-anchor="middle" fill="#0a0a0a" stroke="#0a0a0a" stroke-width="0.1">24</text></g>
<g transform="translate(125.50,573.60) scale(0.995,1)"><text x="0" y="0" font-family="Liberation Serif" font-size="11.5" text-anchor="middle" fill="#0a0a0a" stroke="#0a0a0a" stroke-width="0.1">Transportation time/h</text></g>
<text transform="translate(13.30,530.20) rotate(-90)" x="0" y="0" font-family="Liberation Serif" font-size="12.0" textLength="85.50" lengthAdjust="spacingAndGlyphs" fill="#0a0a0a" stroke="#0a0a0a" stroke-width="0.1">SOD  (U/mg prot)</text>
<path d="M63.80 455.50 V463.00 M63.80 472.60 V474.50 M59.65 455.50 H67.95 M59.65 474.50 H67.95" stroke="#f07878" stroke-width="1" fill="none"/>
<rect x="55.35" y="463.00" width="16.9" height="9.60" fill="#ec1f1f"/>
<path d="M55.35 470.50 H72.25" stroke="#f3b8b8" stroke-width="1" stroke-opacity="1"/>
<circle cx="63.80" cy="467.00" r="1.1" fill="#f5a0a0" fill-opacity="0.6"/>
<g transform="translate(63.80,448.00) scale(0.93,1)"><text x="0" y="0" font-family="Liberation Serif" font-size="12.3" text-anchor="middle" fill="#0a0a0a" stroke="#0a0a0a" stroke-width="0.1">b</text></g>
<path d="M104.90 507.50 V511.00 M104.90 520.60 V526.50 M100.75 507.50 H109.05 M100.75 526.50 H109.05" stroke="#8090d4" stroke-width="1" fill="none"/>
<rect x="96.45" y="511.00" width="16.9" height="9.60" fill="#233c97"/>
<path d="M96.45 514.50 H113.35" stroke="#b8c2e6" stroke-width="1" stroke-opacity="1"/>
<circle cx="104.90" cy="515.00" r="1.1" fill="#a0aee0" fill-opacity="0.6"/>
<g transform="translate(104.90,503.00) scale(0.93,1)"><text x="0" y="0" font-family="Liberation Serif" font-size="12.3" text-anchor="middle" fill="#0a0a0a" stroke="#0a0a0a" stroke-width="0.1">c</text></g>
<path d="M146.00 519.50 V528.00 M146.00 541.60 V546.50 M141.85 519.50 H150.15 M141.85 546.50 H150.15" stroke="#d2b888" stroke-width="1" fill="none"/>
<rect x="137.55" y="528.00" width="16.9" height="13.60" fill="#a07a2a"/>
<path d="M137.55 536.50 H154.45" stroke="#e6d6b0" stroke-width="1" stroke-opacity="1"/>
<circle cx="146.00" cy="534.40" r="1.1" fill="#d8c490" fill-opacity="0.6"/>
<g transform="translate(146.00,516.00) scale(0.93,1)"><text x="0" y="0" font-family="Liberation Serif" font-size="12.3" text-anchor="middle" fill="#0a0a0a" stroke="#0a0a0a" stroke-width="0.1">d</text></g>
<path d="M187.10 434.50 V439.20 M187.10 453.00 V461.50 M182.95 434.50 H191.25 M182.95 461.50 H191.25" stroke="#a6e088" stroke-width="1" fill="none"/>
<rect x="178.65" y="439.20" width="16.9" height="13.80" fill="#7ccd45"/>
<path d="M178.65 444.50 H195.55" stroke="#2f5a20" stroke-width="1" stroke-opacity="1"/>
<circle cx="187.10" cy="446.00" r="1.1" fill="#4a8a30" fill-opacity="0.6"/>
<g transform="translate(186.50,424.80) scale(0.93,1)"><text x="0" y="0" font-family="Liberation Serif" font-size="12.3" text-anchor="middle" fill="#0a0a0a" stroke="#0a0a0a" stroke-width="0.1">a</text></g>
<g transform="translate(238.4,420.0) scale(0.93,1)"><text x="0" y="0" font-family="Liberation Sans" font-size="14.2" fill="#000" stroke="#000" stroke-width="0.25">H</text></g>
<path d="M281.50 419.50 V551.50 H445.60" fill="none" stroke="#6a6a6a" stroke-width="1"/>
<path d="M278.50 551.50 H281.50" stroke="#6a6a6a" stroke-width="1"/>
<g transform="translate(276.50,555.10) scale(0.92,1)"><text x="0" y="0" font-family="Liberation Serif" font-size="11.8" text-anchor="end" fill="#0a0a0a" stroke="#0a0a0a" stroke-width="0.1">50</text></g>
<path d="M278.50 525.50 H281.50" stroke="#6a6a6a" stroke-width="1"/>
<g transform="translate(276.50,529.10) scale(0.92,1)"><text x="0" y="0" font-family="Liberation Serif" font-size="11.8" text-anchor="end" fill="#0a0a0a" stroke="#0a0a0a" stroke-width="0.1">60</text></g>
<path d="M278.50 498.50 H281.50" stroke="#6a6a6a" stroke-width="1"/>
<g transform="translate(276.50,502.10) scale(0.92,1)"><text x="0" y="0" font-family="Liberation Serif" font-size="11.8" text-anchor="end" fill="#0a0a0a" stroke="#0a0a0a" stroke-width="0.1">70</text></g>
<path d="M278.50 472.50 H281.50" stroke="#6a6a6a" stroke-width="1"/>
<g transform="translate(276.50,476.10) scale(0.92,1)"><text x="0" y="0" font-family="Liberation Serif" font-size="11.8" text-anchor="end" fill="#0a0a0a" stroke="#0a0a0a" stroke-width="0.1">80</text></g>
<path d="M278.50 445.50 H281.50" stroke="#6a6a6a" stroke-width="1"/>
<g transform="translate(276.50,449.10) scale(0.92,1)"><text x="0" y="0" font-family="Liberation Serif" font-size="11.8" text-anchor="end" fill="#0a0a0a" stroke="#0a0a0a" stroke-width="0.1">90</text></g>
<path d="M278.50 419.50 H281.50" stroke="#6a6a6a" stroke-width="1"/>
<g transform="translate(276.50,423.10) scale(0.92,1)"><text x="0" y="0" font-family="Liberation Serif" font-size="11.8" text-anchor="end" fill="#0a0a0a" stroke="#0a0a0a" stroke-width="0.1">100</text></g>
<path d="M301.50 552.00 V554.00" stroke="#6a6a6a" stroke-width="1"/>
<g transform="translate(301.70,564.80) scale(0.92,1)"><text x="0" y="0" font-family="Liberation Serif" font-size="11.8" text-anchor="middle" fill="#0a0a0a" stroke="#0a0a0a" stroke-width="0.1">3</text></g>
<path d="M342.50 552.00 V554.00" stroke="#6a6a6a" stroke-width="1"/>
<g transform="translate(342.65,564.80) scale(0.92,1)"><text x="0" y="0" font-family="Liberation Serif" font-size="11.8" text-anchor="middle" fill="#0a0a0a" stroke="#0a0a0a" stroke-width="0.1">6</text></g>
<path d="M383.50 552.00 V554.00" stroke="#6a6a6a" stroke-width="1"/>
<g transform="translate(383.60,564.80) scale(0.92,1)"><text x="0" y="0" font-family="Liberation Serif" font-size="11.8" text-anchor="middle" fill="#0a0a0a" stroke="#0a0a0a" stroke-width="0.1">12</text></g>
<path d="M424.50 552.00 V554.00" stroke="#6a6a6a" stroke-width="1"/>
<g transform="translate(424.55,564.80) scale(0.92,1)"><text x="0" y="0" font-family="Liberation Serif" font-size="11.8" text-anchor="middle" fill="#0a0a0a" stroke="#0a0a0a" stroke-width="0.1">24</text></g>
<g transform="translate(363.50,573.60) scale(0.995,1)"><text x="0" y="0" font-family="Liberation Serif" font-size="11.5" text-anchor="middle" fill="#0a0a0a" stroke="#0a0a0a" stroke-width="0.1">Transportation time/h</text></g>
<text transform="translate(257.50,526.60) rotate(-90)" x="0" y="0" font-family="Liberation Serif" font-size="12.0" textLength="85.90" lengthAdjust="spacingAndGlyphs" fill="#0a0a0a" stroke="#0a0a0a" stroke-width="0.1">CAT  (U/mg prot)</text>
<path d="M301.70 480.50 V484.40 M301.70 496.60 V504.50 M297.55 480.50 H305.85 M297.55 504.50 H305.85" stroke="#f07878" stroke-width="1" fill="none"/>
<rect x="293.25" y="484.40" width="16.9" height="12.20" fill="#ec1f1f"/>
<path d="M293.25 488.50 H310.15" stroke="#f3b8b8" stroke-width="1" stroke-opacity="1"/>
<circle cx="301.70" cy="491.00" r="1.1" fill="#f5a0a0" fill-opacity="0.6"/>
<g transform="translate(301.70,478.80) scale(0.93,1)"><text x="0" y="0" font-family="Liberation Serif" font-size="12.3" text-anchor="middle" fill="#0a0a0a" stroke="#0a0a0a" stroke-width="0.1">b</text></g>
<path d="M342.65 526.50 V529.40 M342.65 537.00 V543.50 M338.50 526.50 H346.80 M338.50 543.50 H346.80" stroke="#8090d4" stroke-width="1" fill="none"/>
<rect x="334.20" y="529.40" width="16.9" height="7.60" fill="#233c97"/>
<path d="M334.20 531.50 H351.10" stroke="#b8c2e6" stroke-width="1" stroke-opacity="1"/>
<circle cx="342.65" cy="534.00" r="1.1" fill="#a0aee0" fill-opacity="0.6"/>
<g transform="translate(342.65,525.00) scale(0.93,1)"><text x="0" y="0" font-family="Liberation Serif" font-size="12.3" text-anchor="middle" fill="#0a0a0a" stroke="#0a0a0a" stroke-width="0.1">c</text></g>
<path d="M383.60 501.50 V505.60 M383.60 509.40 V510.50 M379.45 501.50 H387.75 M379.45 510.50 H387.75" stroke="#d2b888" stroke-width="1" fill="none"/>
<rect x="375.15" y="505.60" width="16.9" height="3.80" fill="#a07a2a"/>
<path d="M375.15 507.50 H392.05" stroke="#e6d6b0" stroke-width="1" stroke-opacity="0"/>
<circle cx="383.60" cy="507.60" r="1.1" fill="#d8c490" fill-opacity="0.6"/>
<g transform="translate(383.60,500.00) scale(0.93,1)"><text x="0" y="0" font-family="Liberation Serif" font-size="12.3" text-anchor="middle" fill="#0a0a0a" stroke="#0a0a0a" stroke-width="0.1">b</text></g>
<path d="M424.55 425.50 V443.60 M424.55 470.40 V477.50 M420.40 425.50 H428.70 M420.40 477.50 H428.70" stroke="#a6e088" stroke-width="1" fill="none"/>
<rect x="416.10" y="443.60" width="16.9" height="26.80" fill="#7ccd45"/>
<path d="M416.10 463.50 H433.00" stroke="#559a36" stroke-width="1" stroke-opacity="1"/>
<circle cx="424.55" cy="455.60" r="1.1" fill="#4a8a30" fill-opacity="0.6"/>
<g transform="translate(423.95,423.80) scale(0.93,1)"><text x="0" y="0" font-family="Liberation Serif" font-size="12.3" text-anchor="middle" fill="#0a0a0a" stroke="#0a0a0a" stroke-width="0.1">a</text></g>
<g transform="translate(472.6,419.5) scale(0.93,1)"><text x="0" y="0" font-family="Liberation Sans" font-size="14.2" fill="#000" stroke="#000" stroke-width="0.25">I</text></g>
<path d="M518.50 419.50 V551.50 H682.40" fill="none" stroke="#6a6a6a" stroke-width="1"/>
<path d="M515.50 551.50 H518.50" stroke="#6a6a6a" stroke-width="1"/>
<g transform="translate(514.30,555.10) scale(0.92,1)"><text x="0" y="0" font-family="Liberation Serif" font-size="11.8" text-anchor="end" fill="#0a0a0a" stroke="#0a0a0a" stroke-width="0.1">0.0</text></g>
<path d="M515.50 529.50 H518.50" stroke="#6a6a6a" stroke-width="1"/>
<g transform="translate(514.30,533.10) scale(0.92,1)"><text x="0" y="0" font-family="Liberation Serif" font-size="11.8" text-anchor="end" fill="#0a0a0a" stroke="#0a0a0a" stroke-width="0.1">2.5</text></g>
<path d="M515.50 507.50 H518.50" stroke="#6a6a6a" stroke-width="1"/>
<g transform="translate(514.30,511.10) scale(0.92,1)"><text x="0" y="0" font-family="Liberation Serif" font-size="11.8" text-anchor="end" fill="#0a0a0a" stroke="#0a0a0a" stroke-width="0.1">5.0</text></g>
<path d="M515.50 485.50 H518.50" stroke="#6a6a6a" stroke-width="1"/>
<g transform="translate(514.30,489.10) scale(0.92,1)"><text x="0" y="0" font-family="Liberation Serif" font-size="11.8" text-anchor="end" fill="#0a0a0a" stroke="#0a0a0a" stroke-width="0.1">7.5</text></g>
<path d="M515.50 463.50 H518.50" stroke="#6a6a6a" stroke-width="1"/>
<g transform="translate(514.30,467.10) scale(0.92,1)"><text x="0" y="0" font-family="Liberation Serif" font-size="11.8" text-anchor="end" fill="#0a0a0a" stroke="#0a0a0a" stroke-width="0.1">10.0</text></g>
<path d="M515.50 441.50 H518.50" stroke="#6a6a6a" stroke-width="1"/>
<g transform="translate(514.30,445.10) scale(0.92,1)"><text x="0" y="0" font-family="Liberation Serif" font-size="11.8" text-anchor="end" fill="#0a0a0a" stroke="#0a0a0a" stroke-width="0.1">12.5</text></g>
<path d="M515.50 419.50 H518.50" stroke="#6a6a6a" stroke-width="1"/>
<g transform="translate(514.30,423.10) scale(0.92,1)"><text x="0" y="0" font-family="Liberation Serif" font-size="11.8" text-anchor="end" fill="#0a0a0a" stroke="#0a0a0a" stroke-width="0.1">15.0</text></g>
<path d="M539.50 552.00 V554.00" stroke="#6a6a6a" stroke-width="1"/>
<g transform="translate(539.25,564.80) scale(0.92,1)"><text x="0" y="0" font-family="Liberation Serif" font-size="11.8" text-anchor="middle" fill="#0a0a0a" stroke="#0a0a0a" stroke-width="0.1">3</text></g>
<path d="M580.50 552.00 V554.00" stroke="#6a6a6a" stroke-width="1"/>
<g transform="translate(580.32,564.80) scale(0.92,1)"><text x="0" y="0" font-family="Liberation Serif" font-size="11.8" text-anchor="middle" fill="#0a0a0a" stroke="#0a0a0a" stroke-width="0.1">6</text></g>
<path d="M621.50 552.00 V554.00" stroke="#6a6a6a" stroke-width="1"/>
<g transform="translate(621.39,564.80) scale(0.92,1)"><text x="0" y="0" font-family="Liberation Serif" font-size="11.8" text-anchor="middle" fill="#0a0a0a" stroke="#0a0a0a" stroke-width="0.1">12</text></g>
<path d="M662.50 552.00 V554.00" stroke="#6a6a6a" stroke-width="1"/>
<g transform="translate(662.46,564.80) scale(0.92,1)"><text x="0" y="0" font-family="Liberation Serif" font-size="11.8" text-anchor="middle" fill="#0a0a0a" stroke="#0a0a0a" stroke-width="0.1">24</text></g>
<g transform="translate(601.00,573.60) scale(0.995,1)"><text x="0" y="0" font-family="Liberation Serif" font-size="11.5" text-anchor="middle" fill="#0a0a0a" stroke="#0a0a0a" stroke-width="0.1">Transportation time/h</text></g>
<text transform="translate(491.30,517.50) rotate(-90)" x="0" y="0" font-family="Liberation Serif" font-size="12.0" textLength="60.20" lengthAdjust="spacingAndGlyphs" fill="#0a0a0a" stroke="#0a0a0a" stroke-width="0.1">CAT  (U/L)</text>
<path d="M539.25 442.50 V451.00 M539.25 470.00 V480.50 M535.10 442.50 H543.40 M535.10 480.50 H543.40" stroke="#f07878" stroke-width="1" fill="none"/>
<rect x="530.80" y="451.00" width="16.9" height="19.00" fill="#ec1f1f"/>
<path d="M530.80 460.50 H547.70" stroke="#f3b8b8" stroke-width="1" stroke-opacity="1"/>
<circle cx="539.25" cy="460.20" r="1.1" fill="#f5a0a0" fill-opacity="0.6"/>
<g transform="translate(539.25,440.40) scale(0.93,1)"><text x="0" y="0" font-family="Liberation Serif" font-size="12.3" text-anchor="middle" fill="#0a0a0a" stroke="#0a0a0a" stroke-width="0.1">b</text></g>
<path d="M580.32 443.50 V452.80 M580.32 472.50 V482.50 M576.17 443.50 H584.47 M576.17 482.50 H584.47" stroke="#8090d4" stroke-width="1" fill="none"/>
<rect x="571.87" y="452.80" width="16.9" height="19.70" fill="#233c97"/>
<path d="M571.87 462.50 H588.77" stroke="#b8c2e6" stroke-width="1" stroke-opacity="1"/>
<circle cx="580.32" cy="462.60" r="1.1" fill="#a0aee0" fill-opacity="0.6"/>
<g transform="translate(580.32,441.40) scale(0.93,1)"><text x="0" y="0" font-family="Liberation Serif" font-size="12.3" text-anchor="middle" fill="#0a0a0a" stroke="#0a0a0a" stroke-width="0.1">b</text></g>
<path d="M621.39 499.50 V513.40 M621.39 531.60 V535.50 M617.24 499.50 H625.54 M617.24 535.50 H625.54" stroke="#d2b888" stroke-width="1" fill="none"/>
<rect x="612.94" y="513.40" width="16.9" height="18.20" fill="#a07a2a"/>
<path d="M612.94 527.50 H629.84" stroke="#e6d6b0" stroke-width="1" stroke-opacity="1"/>
<circle cx="621.39" cy="521.60" r="1.1" fill="#d8c490" fill-opacity="0.6"/>
<g transform="translate(621.39,498.40) scale(0.93,1)"><text x="0" y="0" font-family="Liberation Serif" font-size="12.3" text-anchor="middle" fill="#0a0a0a" stroke="#0a0a0a" stroke-width="0.1">c</text></g>
<path d="M662.46 429.50 V430.30 M662.46 434.80 V438.50 M658.31 429.50 H666.61 M658.31 438.50 H666.61" stroke="#a6e088" stroke-width="1" fill="none"/>
<rect x="654.01" y="430.30" width="16.9" height="4.50" fill="#7ccd45"/>
<path d="M654.01 431.50 H670.91" stroke="#2f5a20" stroke-width="1" stroke-opacity="1"/>
<circle cx="662.46" cy="433.10" r="1.1" fill="#4a8a30" fill-opacity="0.6"/>
<g transform="translate(661.86,428.80) scale(0.93,1)"><text x="0" y="0" font-family="Liberation Serif" font-size="12.3" text-anchor="middle" fill="#0a0a0a" stroke="#0a0a0a" stroke-width="0.1">a</text></g>
<g transform="translate(104,610.3) scale(0.93,1)"><text x="0" y="0" font-family="Liberation Sans" font-size="14.2" fill="#000" stroke="#000" stroke-width="0.25">J</text></g>
<path d="M140.50 616.50 V748.50 H304.40" fill="none" stroke="#707070" stroke-width="1"/>
<path d="M137.50 748.50 H140.50" stroke="#707070" stroke-width="1"/>
<g transform="translate(135.50,751.70) scale(0.94,1)"><text x="0" y="0" font-family="Liberation Serif" font-size="11.2" text-anchor="end" fill="#0a0a0a" stroke="#0a0a0a" stroke-width="0.1">0.8</text></g>
<path d="M137.50 726.50 H140.50" stroke="#707070" stroke-width="1"/>
<g transform="translate(135.50,729.70) scale(0.94,1)"><text x="0" y="0" font-family="Liberation Serif" font-size="11.2" text-anchor="end" fill="#0a0a0a" stroke="#0a0a0a" stroke-width="0.1">1.0</text></g>
<path d="M137.50 704.50 H140.50" stroke="#707070" stroke-width="1"/>
<g transform="translate(135.50,707.70) scale(0.94,1)"><text x="0" y="0" font-family="Liberation Serif" font-size="11.2" text-anchor="end" fill="#0a0a0a" stroke="#0a0a0a" stroke-width="0.1">1.2</text></g>
<path d="M137.50 682.50 H140.50" stroke="#707070" stroke-width="1"/>
<g transform="translate(135.50,685.70) scale(0.94,1)"><text x="0" y="0" font-family="Liberation Serif" font-size="11.2" text-anchor="end" fill="#0a0a0a" stroke="#0a0a0a" stroke-width="0.1">1.4</text></g>
<path d="M137.50 660.50 H140.50" stroke="#707070" stroke-width="1"/>
<g transform="translate(135.50,663.70) scale(0.94,1)"><text x="0" y="0" font-family="Liberation Serif" font-size="11.2" text-anchor="end" fill="#0a0a0a" stroke="#0a0a0a" stroke-width="0.1">1.6</text></g>
<path d="M137.50 638.50 H140.50" stroke="#707070" stroke-width="1"/>
<g transform="translate(135.50,641.70) scale(0.94,1)"><text x="0" y="0" font-family="Liberation Serif" font-size="11.2" text-anchor="end" fill="#0a0a0a" stroke="#0a0a0a" stroke-width="0.1">1.8</text></g>
<path d="M137.50 616.50 H140.50" stroke="#707070" stroke-width="1"/>
<g transform="translate(135.50,619.70) scale(0.94,1)"><text x="0" y="0" font-family="Liberation Serif" font-size="11.2" text-anchor="end" fill="#0a0a0a" stroke="#0a0a0a" stroke-width="0.1">2.0</text></g>
<path d="M160.50 749.00 V751.00" stroke="#6a6a6a" stroke-width="1"/>
<g transform="translate(160.50,761.80) scale(0.94,1)"><text x="0" y="0" font-family="Liberation Serif" font-size="11.2" text-anchor="middle" fill="#0a0a0a" stroke="#0a0a0a" stroke-width="0.1">3</text></g>
<path d="M201.50 749.00 V751.00" stroke="#6a6a6a" stroke-width="1"/>
<g transform="translate(201.50,761.80) scale(0.94,1)"><text x="0" y="0" font-family="Liberation Serif" font-size="11.2" text-anchor="middle" fill="#0a0a0a" stroke="#0a0a0a" stroke-width="0.1">6</text></g>
<path d="M242.50 749.00 V751.00" stroke="#6a6a6a" stroke-width="1"/>
<g transform="translate(242.50,761.80) scale(0.94,1)"><text x="0" y="0" font-family="Liberation Serif" font-size="11.2" text-anchor="middle" fill="#0a0a0a" stroke="#0a0a0a" stroke-width="0.1">12</text></g>
<path d="M283.50 749.00 V751.00" stroke="#6a6a6a" stroke-width="1"/>
<g transform="translate(283.50,761.80) scale(0.94,1)"><text x="0" y="0" font-family="Liberation Serif" font-size="11.2" text-anchor="middle" fill="#0a0a0a" stroke="#0a0a0a" stroke-width="0.1">24</text></g>
<g transform="translate(222.20,770.60) scale(0.995,1)"><text x="0" y="0" font-family="Liberation Serif" font-size="11.5" text-anchor="middle" fill="#0a0a0a" stroke="#0a0a0a" stroke-width="0.1">Transportation time/h</text></g>
<text transform="translate(118.00,705.00) rotate(-90)" x="0" y="0" font-family="Liberation Sans" font-size="11.3" textLength="43.90" lengthAdjust="spacingAndGlyphs" fill="#0a0a0a" stroke="#0a0a0a" stroke-width="0.1">Caspase-3</text>
<path d="M160.50 722.50 V723.00 M160.50 726.20 V726.50 M156.35 722.50 H164.65 M156.35 726.50 H164.65" stroke="#f07878" stroke-width="1" fill="none"/>
<rect x="152.05" y="723.00" width="16.9" height="3.20" fill="#ec1f1f"/>
<path d="M152.05 724.50 H168.95" stroke="#f3b8b8" stroke-width="1" stroke-opacity="1"/>
<circle cx="160.50" cy="724.50" r="1.1" fill="#f5a0a0" fill-opacity="0.6"/>
<g transform="translate(160.50,719.60) scale(0.93,1)"><text x="0" y="0" font-family="Liberation Serif" font-size="11.4" text-anchor="middle" fill="#0a0a0a" stroke="#0a0a0a" stroke-width="0.1">b</text></g>
<path d="M201.50 715.50 V718.00 M201.50 728.60 V731.50 M197.35 715.50 H205.65 M197.35 731.50 H205.65" stroke="#8090d4" stroke-width="1" fill="none"/>
<rect x="193.05" y="718.00" width="16.9" height="10.60" fill="#233c97"/>
<path d="M193.05 723.50 H209.95" stroke="#b8c2e6" stroke-width="1" stroke-opacity="1"/>
<circle cx="201.50" cy="723.00" r="1.1" fill="#a0aee0" fill-opacity="0.6"/>
<g transform="translate(201.50,713.00) scale(0.93,1)"><text x="0" y="0" font-family="Liberation Serif" font-size="11.4" text-anchor="middle" fill="#0a0a0a" stroke="#0a0a0a" stroke-width="0.1">b</text></g>
<path d="M242.50 706.50 V710.40 M242.50 730.60 V737.50 M238.35 706.50 H246.65 M238.35 737.50 H246.65" stroke="#d2b888" stroke-width="1" fill="none"/>
<rect x="234.05" y="710.40" width="16.9" height="20.20" fill="#a07a2a"/>
<path d="M234.05 719.50 H250.95" stroke="#e6d6b0" stroke-width="1" stroke-opacity="1"/>
<circle cx="242.50" cy="720.40" r="1.1" fill="#d8c490" fill-opacity="0.6"/>
<g transform="translate(242.50,704.00) scale(0.93,1)"><text x="0" y="0" font-family="Liberation Serif" font-size="11.4" text-anchor="middle" fill="#0a0a0a" stroke="#0a0a0a" stroke-width="0.1">b</text></g>
<path d="M283.50 617.50 V627.00 M283.50 660.40 V668.50 M279.35 617.50 H287.65 M279.35 668.50 H287.65" stroke="#a6e088" stroke-width="1" fill="none"/>
<rect x="275.05" y="627.00" width="16.9" height="33.40" fill="#7ccd45"/>
<path d="M275.05 644.50 H291.95" stroke="#2f5a20" stroke-width="1" stroke-opacity="1"/>
<circle cx="283.50" cy="643.20" r="1.1" fill="#4a8a30" fill-opacity="0.6"/>
<g transform="translate(282.90,615.00) scale(0.93,1)"><text x="0" y="0" font-family="Liberation Serif" font-size="11.4" text-anchor="middle" fill="#0a0a0a" stroke="#0a0a0a" stroke-width="0.1">a</text></g>
<g transform="translate(381.6,610.3) scale(0.93,1)"><text x="0" y="0" font-family="Liberation Sans" font-size="14.2" fill="#000" stroke="#000" stroke-width="0.25">K</text></g>
<path d="M409.50 616.50 V748.50 H573.60" fill="none" stroke="#707070" stroke-width="1"/>
<path d="M406.50 748.50 H409.50" stroke="#707070" stroke-width="1"/>
<g transform="translate(405.10,751.70) scale(0.94,1)"><text x="0" y="0" font-family="Liberation Serif" font-size="11.2" text-anchor="end" fill="#0a0a0a" stroke="#0a0a0a" stroke-width="0.1">0</text></g>
<path d="M406.50 729.50 H409.50" stroke="#707070" stroke-width="1"/>
<g transform="translate(405.10,732.70) scale(0.94,1)"><text x="0" y="0" font-family="Liberation Serif" font-size="11.2" text-anchor="end" fill="#0a0a0a" stroke="#0a0a0a" stroke-width="0.1">1</text></g>
<path d="M406.50 710.50 H409.50" stroke="#707070" stroke-width="1"/>
<g transform="translate(405.10,713.70) scale(0.94,1)"><text x="0" y="0" font-family="Liberation Serif" font-size="11.2" text-anchor="end" fill="#0a0a0a" stroke="#0a0a0a" stroke-width="0.1">2</text></g>
<path d="M406.50 691.50 H409.50" stroke="#707070" stroke-width="1"/>
<g transform="translate(405.10,694.70) scale(0.94,1)"><text x="0" y="0" font-family="Liberation Serif" font-size="11.2" text-anchor="end" fill="#0a0a0a" stroke="#0a0a0a" stroke-width="0.1">3</text></g>
<path d="M406.50 673.50 H409.50" stroke="#707070" stroke-width="1"/>
<g transform="translate(405.10,676.70) scale(0.94,1)"><text x="0" y="0" font-family="Liberation Serif" font-size="11.2" text-anchor="end" fill="#0a0a0a" stroke="#0a0a0a" stroke-width="0.1">4</text></g>
<path d="M406.50 654.50 H409.50" stroke="#707070" stroke-width="1"/>
<g transform="translate(405.10,657.70) scale(0.94,1)"><text x="0" y="0" font-family="Liberation Serif" font-size="11.2" text-anchor="end" fill="#0a0a0a" stroke="#0a0a0a" stroke-width="0.1">5</text></g>
<path d="M406.50 635.50 H409.50" stroke="#707070" stroke-width="1"/>
<g transform="translate(405.10,638.70) scale(0.94,1)"><text x="0" y="0" font-family="Liberation Serif" font-size="11.2" text-anchor="end" fill="#0a0a0a" stroke="#0a0a0a" stroke-width="0.1">6</text></g>
<path d="M406.50 616.50 H409.50" stroke="#707070" stroke-width="1"/>
<g transform="translate(405.10,619.70) scale(0.94,1)"><text x="0" y="0" font-family="Liberation Serif" font-size="11.2" text-anchor="end" fill="#0a0a0a" stroke="#0a0a0a" stroke-width="0.1">7</text></g>
<path d="M430.50 749.00 V751.00" stroke="#6a6a6a" stroke-width="1"/>
<g transform="translate(430.30,761.80) scale(0.94,1)"><text x="0" y="0" font-family="Liberation Serif" font-size="11.2" text-anchor="middle" fill="#0a0a0a" stroke="#0a0a0a" stroke-width="0.1">3</text></g>
<path d="M471.50 749.00 V751.00" stroke="#6a6a6a" stroke-width="1"/>
<g transform="translate(471.30,761.80) scale(0.94,1)"><text x="0" y="0" font-family="Liberation Serif" font-size="11.2" text-anchor="middle" fill="#0a0a0a" stroke="#0a0a0a" stroke-width="0.1">6</text></g>
<path d="M512.50 749.00 V751.00" stroke="#6a6a6a" stroke-width="1"/>
<g transform="translate(512.30,761.80) scale(0.94,1)"><text x="0" y="0" font-family="Liberation Serif" font-size="11.2" text-anchor="middle" fill="#0a0a0a" stroke="#0a0a0a" stroke-width="0.1">12</text></g>
<path d="M553.50 749.00 V751.00" stroke="#6a6a6a" stroke-width="1"/>
<g transform="translate(553.30,761.80) scale(0.94,1)"><text x="0" y="0" font-family="Liberation Serif" font-size="11.2" text-anchor="middle" fill="#0a0a0a" stroke="#0a0a0a" stroke-width="0.1">24</text></g>
<g transform="translate(491.80,770.60) scale(0.995,1)"><text x="0" y="0" font-family="Liberation Serif" font-size="11.5" text-anchor="middle" fill="#0a0a0a" stroke="#0a0a0a" stroke-width="0.1">Transportation time/h</text></g>
<text transform="translate(397.00,705.00) rotate(-90)" x="0" y="0" font-family="Liberation Sans" font-size="11.3" textLength="45.60" lengthAdjust="spacingAndGlyphs" fill="#0a0a0a" stroke="#0a0a0a" stroke-width="0.1">Caspase-3</text>
<path d="M430.30 728.50 V728.30 M430.30 729.80 V729.50 M426.15 728.50 H434.45 M426.15 729.50 H434.45" stroke="#f07878" stroke-width="1" fill="none"/>
<rect x="421.85" y="728.30" width="16.9" height="1.50" fill="#ea6464"/>
<path d="M421.85 729.50 H438.75" stroke="#ee8080" stroke-width="1" stroke-opacity="0.55"/>
<circle cx="430.30" cy="729.05" r="1.1" fill="#f5a0a0" fill-opacity="0.6"/>
<g transform="translate(430.30,724.40) scale(0.93,1)"><text x="0" y="0" font-family="Liberation Serif" font-size="11.4" text-anchor="middle" fill="#0a0a0a" stroke="#0a0a0a" stroke-width="0.1">c</text></g>
<path d="M471.30 711.50 V713.00 M471.30 720.40 V722.50 M467.15 711.50 H475.45 M467.15 722.50 H475.45" stroke="#8090d4" stroke-width="1" fill="none"/>
<rect x="462.85" y="713.00" width="16.9" height="7.40" fill="#233c97"/>
<path d="M462.85 716.50 H479.75" stroke="#b8c2e6" stroke-width="1" stroke-opacity="1"/>
<circle cx="471.30" cy="716.40" r="1.1" fill="#a0aee0" fill-opacity="0.6"/>
<g transform="translate(471.30,707.60) scale(0.93,1)"><text x="0" y="0" font-family="Liberation Serif" font-size="11.4" text-anchor="middle" fill="#0a0a0a" stroke="#0a0a0a" stroke-width="0.1">c</text></g>
<path d="M512.30 658.50 V664.20 M512.30 693.00 V699.50 M508.15 658.50 H516.45 M508.15 699.50 H516.45" stroke="#d2b888" stroke-width="1" fill="none"/>
<rect x="503.85" y="664.20" width="16.9" height="28.80" fill="#a07a2a"/>
<path d="M503.85 678.50 H520.75" stroke="#e6d6b0" stroke-width="1" stroke-opacity="1"/>
<circle cx="512.30" cy="678.00" r="1.1" fill="#d8c490" fill-opacity="0.6"/>
<g transform="translate(512.30,655.60) scale(0.93,1)"><text x="0" y="0" font-family="Liberation Serif" font-size="11.4" text-anchor="middle" fill="#0a0a0a" stroke="#0a0a0a" stroke-width="0.1">b</text></g>
<path d="M553.30 630.50 V633.00 M553.30 646.00 V649.50 M549.15 630.50 H557.45 M549.15 649.50 H557.45" stroke="#a6e088" stroke-width="1" fill="none"/>
<rect x="544.85" y="633.00" width="16.9" height="13.00" fill="#7ccd45"/>
<path d="M544.85 639.50 H561.75" stroke="#2f5a20" stroke-width="1" stroke-opacity="1"/>
<circle cx="553.30" cy="639.20" r="1.1" fill="#4a8a30" fill-opacity="0.6"/>
<g transform="translate(552.70,626.00) scale(0.93,1)"><text x="0" y="0" font-family="Liberation Serif" font-size="11.4" text-anchor="middle" fill="#0a0a0a" stroke="#0a0a0a" stroke-width="0.1">a</text></g>
</svg>
</body></html>
